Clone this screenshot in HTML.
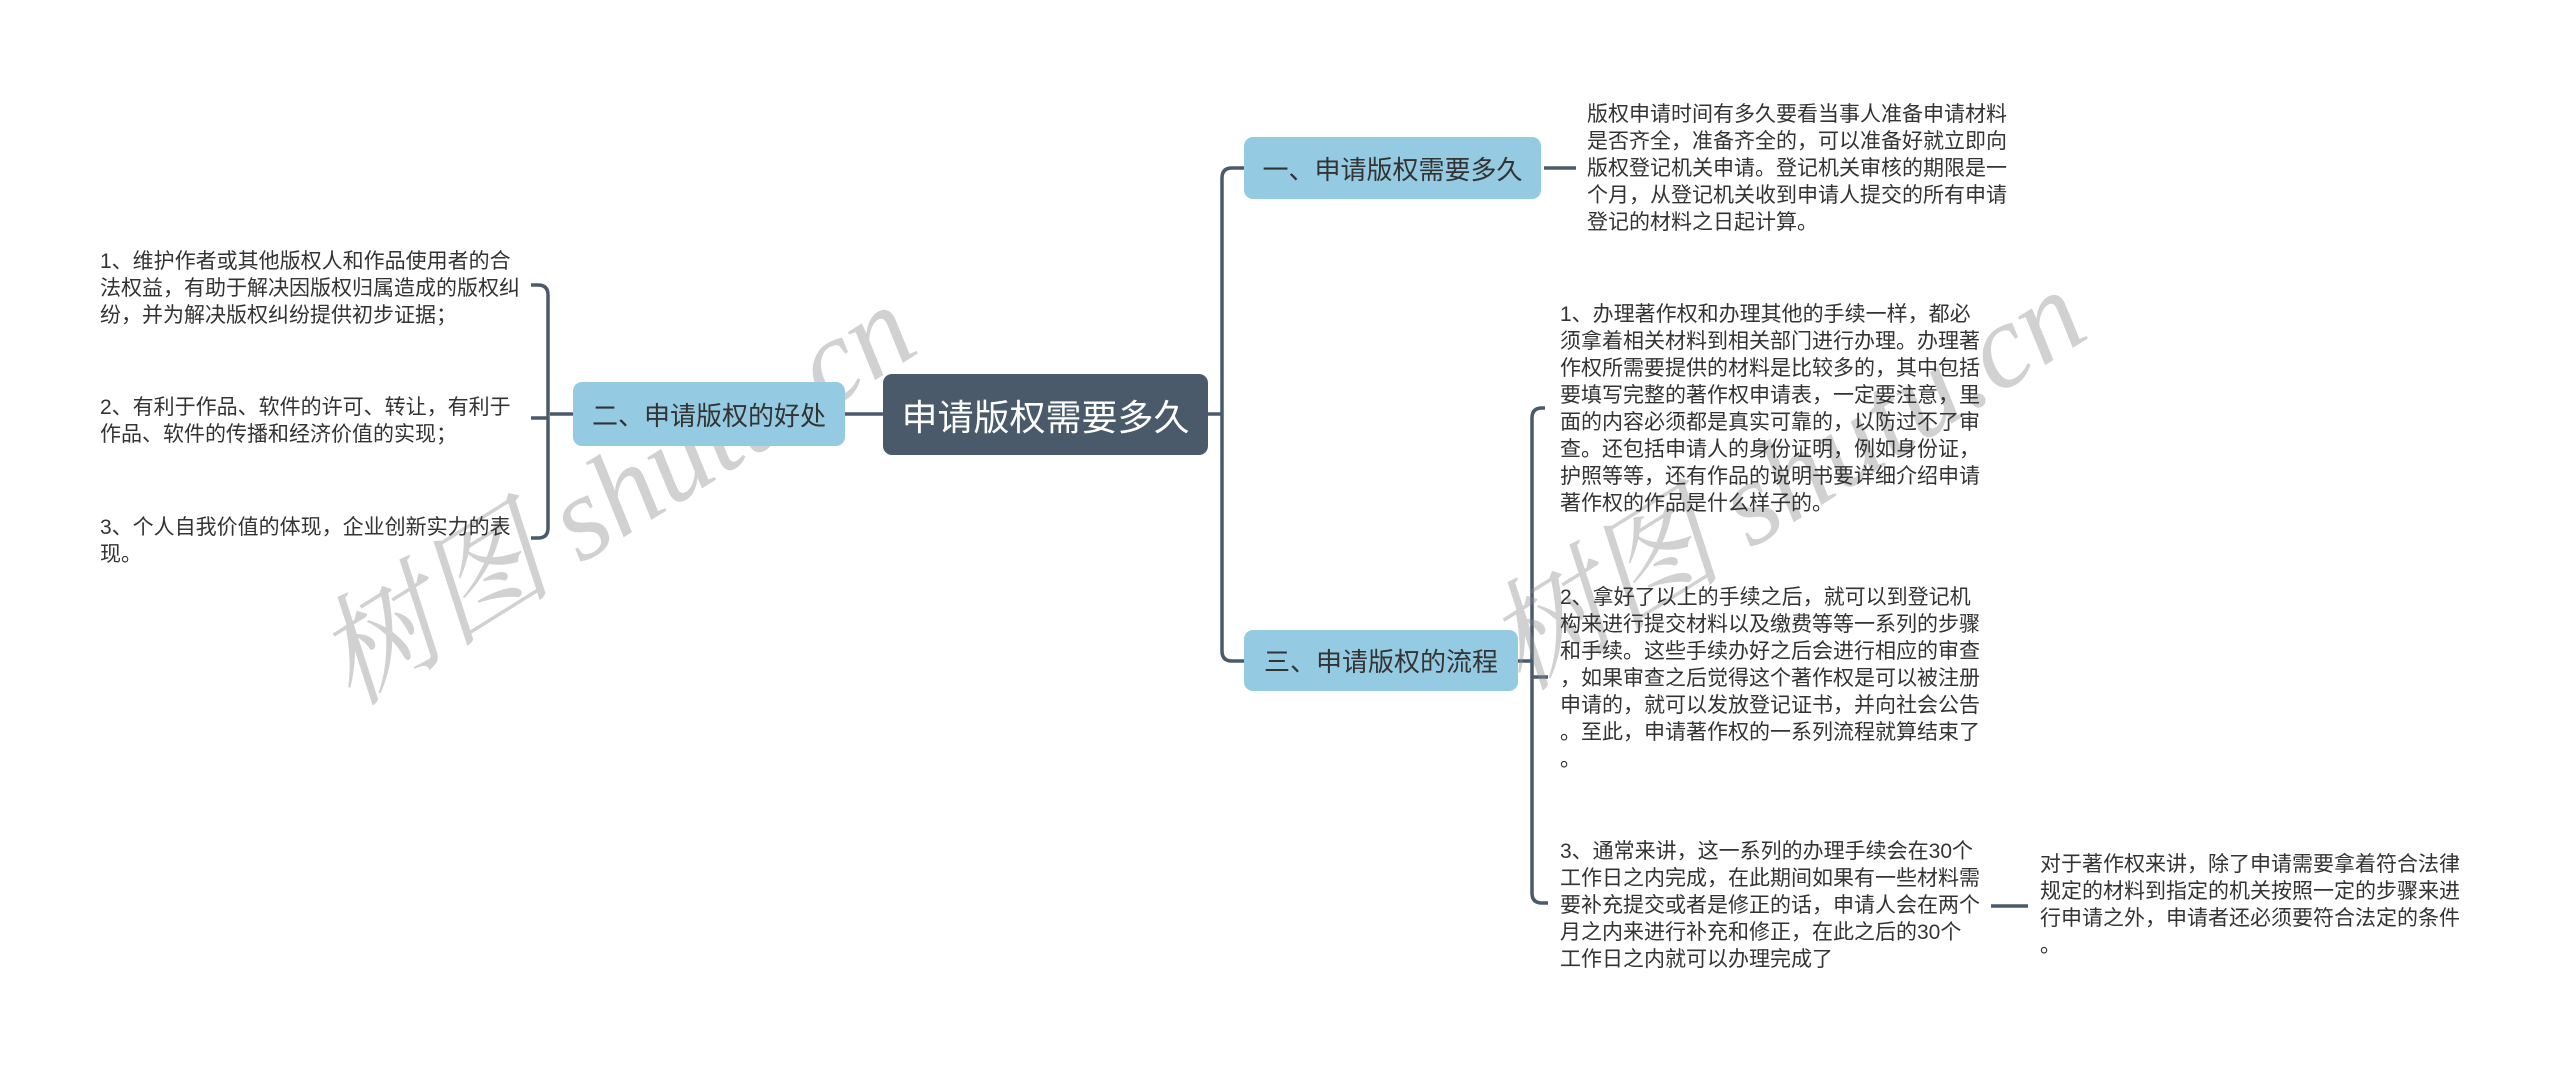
<!DOCTYPE html>
<html><head><meta charset="utf-8"><style>
html,body{margin:0;padding:0;background:#fff;}
body{width:2560px;height:1073px;position:relative;overflow:hidden;font-family:"Liberation Sans","Noto Sans CJK SC",sans-serif;}
.t{position:absolute;font-size:21px;line-height:27px;color:#333;white-space:nowrap;}
.n{position:absolute;box-sizing:border-box;border-radius:9px;display:flex;align-items:center;justify-content:center;white-space:nowrap;}
.b{background:#94cbe3;color:#333;font-size:26px;}
.c{background:#4a5a6a;color:#fff;font-size:36px;}
.wm{position:absolute;font-family:"Liberation Serif","Noto Serif CJK SC",serif;font-style:italic;font-size:120px;color:rgba(140,140,140,0.4);white-space:nowrap;transform-origin:left bottom;transform:rotate(-32deg);}
</style></head><body>
<svg width="2560" height="1073" style="position:absolute;left:0;top:0">
<g fill="none" stroke="#4a5a6a" stroke-width="3.5">
<path d="M845 414 H883"/>
<path d="M573 414 H550"/>
<path d="M531 285 H538 Q548 285 548 295 V528 Q548 538 538 538 H531"/>
<path d="M531 418 H548"/>
<path d="M1208 414 H1222"/>
<path d="M1247 168 H1232 Q1222 168 1222 178 V651 Q1222 661 1232 661 H1247"/>
<path d="M1544 168 H1576"/>
<path d="M1518 661 H1532"/>
<path d="M1545 408 H1542 Q1532 408 1532 418 V893 Q1532 903 1542 903 H1548"/>
<path d="M1532 677 H1548"/>
<path d="M1991 906 H2028"/>
</g></svg>
<div class="wm" style="left:370px;top:565px">树图 shutu.cn</div>
<div class="wm" style="left:1540px;top:550px">树图 shutu.cn</div>

<div class="n c" style="left:883px;top:374px;width:325px;height:81px">申请版权需要多久</div>
<div class="n b" style="left:573px;top:382px;width:272px;height:64px">二、申请版权的好处</div>
<div class="n b" style="left:1244px;top:137px;width:297px;height:62px">一、申请版权需要多久</div>
<div class="n b" style="left:1244px;top:630px;width:274px;height:61px">三、申请版权的流程</div>

<div class="t" style="left:100px;top:248px">1、维护作者或其他版权人和作品使用者的合<br>法权益，有助于解决因版权归属造成的版权纠<br>纷，并为解决版权纠纷提供初步证据；</div>
<div class="t" style="left:100px;top:394px">2、有利于作品、软件的许可、转让，有利于<br>作品、软件的传播和经济价值的实现；</div>
<div class="t" style="left:100px;top:514px">3、个人自我价值的体现，企业创新实力的表<br>现。</div>

<div class="t" style="left:1587px;top:101px">版权申请时间有多久要看当事人准备申请材料<br>是否齐全，准备齐全的，可以准备好就立即向<br>版权登记机关申请。登记机关审核的期限是一<br>个月，从登记机关收到申请人提交的所有申请<br>登记的材料之日起计算。</div>

<div class="t" style="left:1560px;top:301px">1、办理著作权和办理其他的手续一样，都必<br>须拿着相关材料到相关部门进行办理。办理著<br>作权所需要提供的材料是比较多的，其中包括<br>要填写完整的著作权申请表，一定要注意，里<br>面的内容必须都是真实可靠的，以防过不了审<br>查。还包括申请人的身份证明，例如身份证，<br>护照等等，还有作品的说明书要详细介绍申请<br>著作权的作品是什么样子的。</div>

<div class="t" style="left:1560px;top:584px">2、拿好了以上的手续之后，就可以到登记机<br>构来进行提交材料以及缴费等等一系列的步骤<br>和手续。这些手续办好之后会进行相应的审查<br>，如果审查之后觉得这个著作权是可以被注册<br>申请的，就可以发放登记证书，并向社会公告<br>。至此，申请著作权的一系列流程就算结束了<br>。</div>

<div class="t" style="left:1560px;top:838px">3、通常来讲，这一系列的办理手续会在30个<br>工作日之内完成，在此期间如果有一些材料需<br>要补充提交或者是修正的话，申请人会在两个<br>月之内来进行补充和修正，在此之后的30个<br>工作日之内就可以办理完成了</div>

<div class="t" style="left:2040px;top:851px">对于著作权来讲，除了申请需要拿着符合法律<br>规定的材料到指定的机关按照一定的步骤来进<br>行申请之外，申请者还必须要符合法定的条件<br>。</div>
</body></html>
